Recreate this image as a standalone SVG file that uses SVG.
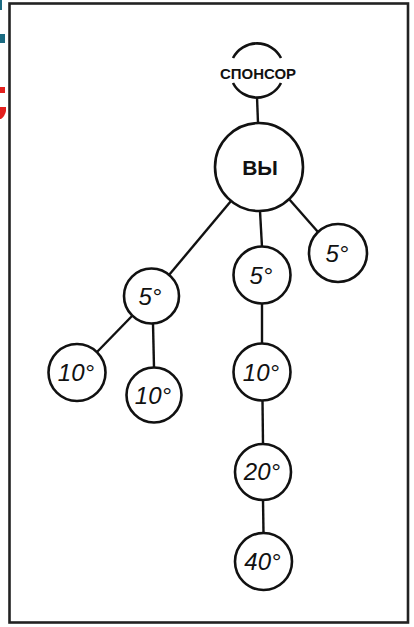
<svg xmlns="http://www.w3.org/2000/svg" width="414" height="627" viewBox="0 0 414 627">
<style>
.n{fill:#fff;stroke:#111;stroke-width:2.6}
.c line,.c path{stroke:#111;stroke-width:2.4;fill:none}
.t{font-family:"Liberation Sans",Arial,sans-serif;font-style:italic;font-size:24px;fill:#111;text-anchor:middle}
.b{font-family:"Liberation Sans",Arial,sans-serif;font-weight:bold;fill:#111;text-anchor:middle}
</style>
<rect width="414" height="627" fill="#fff"/>
<g id="edge-marks">
<rect x="0" y="0" width="2" height="10" fill="#1b6b82"/>
<rect x="0" y="34" width="5" height="9" fill="#1b6b82"/>
<rect x="0" y="87" width="5" height="6" fill="#e3201e"/>
<path d="M0 107 L6 107 L6 111 Q5 116 1 119 L0 119 Z" fill="#e3201e"/>
</g>
<rect id="frame" x="9.5" y="3.5" width="398.5" height="619" fill="none" stroke="#222" stroke-width="2.6"/>
<g class="c" id="connectors">
<line x1="257" y1="97" x2="258" y2="123"/>
<line x1="231" y1="201" x2="169" y2="275"/>
<line x1="260" y1="211" x2="262" y2="247"/>
<line x1="289" y1="199" x2="318" y2="232"/>
<line x1="132" y1="316" x2="96.5" y2="352.5"/>
<line x1="153" y1="323.5" x2="154" y2="367.5"/>
<line x1="262" y1="303.5" x2="262" y2="343.5"/>
<line x1="262.5" y1="400.5" x2="263" y2="444"/>
<line x1="263" y1="500" x2="263.5" y2="533"/>
</g>
<g id="sponsor">
<path d="M233 58 A27 27 0 0 1 281 58 M233 83 A27 27 0 0 0 281 83" fill="none" stroke="#111" stroke-width="2.6"/>
<text class="b" x="258" y="79" font-size="15.5" textLength="76" lengthAdjust="spacingAndGlyphs">СПОНСОР</text>
</g>
<g id="you">
<circle class="n" cx="259" cy="167" r="44"/>
<text class="b" x="260" y="175" font-size="21">ВЫ</text>
</g>
<g id="n5a"><circle class="n" cx="151.5" cy="296" r="27.5"/><text class="t" x="150" y="305">5°</text></g>
<g id="n5b"><circle class="n" cx="262" cy="275" r="28.5"/><text class="t" x="261" y="284">5°</text></g>
<g id="n5c"><circle class="n" cx="338" cy="253" r="29"/><text class="t" x="337" y="262">5°</text></g>
<g id="n10a"><circle class="n" cx="77" cy="372.5" r="28.5"/><text class="t" x="76" y="381">10°</text></g>
<g id="n10b"><circle class="n" cx="154" cy="395" r="27.5"/><text class="t" x="153" y="404">10°</text></g>
<g id="n10c"><circle class="n" cx="262" cy="372" r="28.5"/><text class="t" x="261" y="381">10°</text></g>
<g id="n20"><circle class="n" cx="263" cy="472" r="28"/><text class="t" x="262" y="480">20°</text></g>
<g id="n40"><circle class="n" cx="263.5" cy="561.5" r="28.5"/><text class="t" x="262.5" y="570">40°</text></g>
</svg>
